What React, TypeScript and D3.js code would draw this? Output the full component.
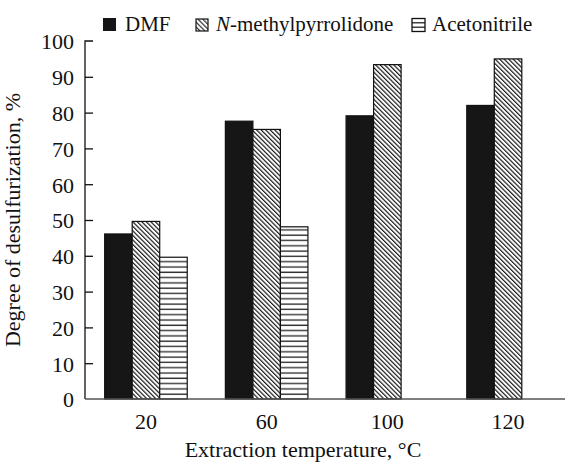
import React, { useEffect, useRef } from 'react'
import * as d3 from 'd3'

const categories = ['20', '60', '100', '120']
const dmf = [46.1, 77.6, 79.1, 82.0]
const nmp = [49.6, 75.3, 93.4, 95.0]
const acetonitrile: (number | null)[] = [39.6, 48.1, null, null]
const yTicks = [0, 10, 20, 30, 40, 50, 60, 70, 80, 90, 100]

const seriesKeys = ['dmf', 'nmp', 'acn']
const fills: Record<string, string> = {
  dmf: '#161616',
  nmp: 'url(#hatchDiag)',
  acn: 'url(#hatchHoriz)'
}

const font = "'Liberation Serif', Tinos, 'Times New Roman', 'DejaVu Serif', serif"

export default function App() {
  const ref = useRef<SVGSVGElement>(null)

  useEffect(() => {
    const svg = d3.select(ref.current)
    svg.selectAll('*').remove()

    const W = 566
    const H = 462
    const left = 85
    const bottom = 399
    const top = 41

    const x = d3.scaleBand().domain(categories).range([left, 569]).paddingInner(0.316).paddingOuter(0.163)
    const xs = d3.scaleBand().domain(seriesKeys).range([0, x.bandwidth()])
    const y = d3.scaleLinear().domain([0, 100]).range([bottom, top])

    svg.attr('width', W).attr('height', H).style('font-family', font)

    // patterns
    const defs = svg.append('defs')
    const diag = defs.append('pattern')
      .attr('id', 'hatchDiag')
      .attr('patternUnits', 'userSpaceOnUse')
      .attr('width', 3.2).attr('height', 3.2)
      .attr('patternTransform', 'rotate(-45)')
    diag.append('rect').attr('width', 3.2).attr('height', 3.2).attr('fill', '#fff')
    diag.append('line').attr('x1', 0.6).attr('y1', 0).attr('x2', 0.6).attr('y2', 3.2)
      .attr('stroke', '#1a1a1a').attr('stroke-width', 1.2)

    const horiz = defs.append('pattern')
      .attr('id', 'hatchHoriz')
      .attr('patternUnits', 'userSpaceOnUse')
      .attr('width', 10).attr('height', 5.3)
    horiz.append('rect').attr('width', 10).attr('height', 5.3).attr('fill', '#fff')
    horiz.append('line').attr('x1', 0).attr('y1', 2).attr('x2', 10).attr('y2', 2)
      .attr('stroke', '#333').attr('stroke-width', 1.4)

    const diagL = defs.append('pattern')
      .attr('id', 'legendDiag')
      .attr('patternUnits', 'userSpaceOnUse')
      .attr('width', 3.4).attr('height', 3.4)
      .attr('patternTransform', 'rotate(-45)')
    diagL.append('rect').attr('width', 3.4).attr('height', 3.4).attr('fill', '#fff')
    diagL.append('line').attr('x1', 0.6).attr('y1', 0).attr('x2', 0.6).attr('y2', 3.4)
      .attr('stroke', '#1a1a1a').attr('stroke-width', 1.1)

    // bars
    const rows = categories.map((c, i) => ({ c, dmf: dmf[i], nmp: nmp[i], acn: acetonitrile[i] }))
    const groups = svg.append('g').selectAll('g')
      .data(rows)
      .enter().append('g')
      .attr('transform', d => `translate(${x(d.c)},0)`)

    groups.selectAll('rect')
      .data(d => seriesKeys.map(k => ({ k, v: (d as any)[k] as number | null })).filter(e => e.v != null))
      .enter().append('rect')
      .attr('x', d => xs(d.k)!)
      .attr('width', xs.bandwidth())
      .attr('y', d => y(d.v!))
      .attr('height', d => bottom - y(d.v!))
      .attr('fill', d => fills[d.k])
      .attr('stroke', '#111')
      .attr('stroke-width', 1.2)

    // y axis
    const ya = svg.append('g').attr('transform', `translate(${left},0)`)
    ya.call(d3.axisLeft(y).tickValues(yTicks).tickSize(-8).tickPadding(11).tickSizeOuter(-8))
    ya.attr('font-family', null)
    ya.select('.domain').attr('stroke', '#111').attr('stroke-width', 1.3)
    ya.selectAll('.tick line').attr('stroke', '#111').attr('stroke-width', 1.3)
    ya.selectAll('.tick text')
      .style('font-family', font).attr('font-size', 22).attr('fill', '#111')
      .attr('dy', '0.36em')
    ya.select('.domain').attr('d', `M0,${bottom}V${top}h8`)
    ya.selectAll('.tick').filter((d: any) => d === 100 || d === 0).select('line').remove()

    // x axis
    const xa = svg.append('g').attr('transform', `translate(0,${bottom})`)
    xa.call(d3.axisBottom(x).tickSize(0).tickPadding(14))
    xa.attr('font-family', null)
    xa.select('.domain').attr('d', `M${left},0H565`).attr('stroke', '#555').attr('stroke-width', 1.6)
    xa.selectAll('.tick text')
      .style('font-family', font).attr('font-size', 22).attr('fill', '#111')

    // axis titles
    svg.append('text')
      .attr('x', 303).attr('y', 457)
      .attr('text-anchor', 'middle')
      .style('font-family', font).attr('font-size', 22).attr('fill', '#111')
      .text('Extraction temperature, °C')

    svg.append('text')
      .attr('transform', `translate(20,${(top + bottom) / 2}) rotate(-90)`)
      .attr('text-anchor', 'middle')
      .style('font-family', font).attr('font-size', 22).attr('fill', '#111')
      .text('Degree of desulfurization, %')

    // legend
    const lg = svg.append('g').style('font-family', font)
    lg.append('rect').attr('x', 103).attr('y', 18).attr('width', 13).attr('height', 13).attr('fill', '#161616')
    lg.append('text').attr('x', 125).attr('y', 31)
      .attr('font-size', 21).attr('fill', '#111').text('DMF')

    lg.append('rect').attr('x', 196).attr('y', 19).attr('width', 12).attr('height', 12)
      .attr('fill', 'url(#legendDiag)').attr('stroke', '#111').attr('stroke-width', 1.2)
    const t2 = lg.append('text').attr('x', 216).attr('y', 31)
      .attr('font-size', 21).attr('fill', '#111')
    t2.append('tspan').attr('font-style', 'italic').text('N')
    t2.append('tspan').text('-methylpyrrolidone')

    lg.append('rect').attr('x', 412).attr('y', 18.5).attr('width', 13).attr('height', 13)
      .attr('fill', '#fff').attr('stroke', '#111').attr('stroke-width', 1.3)
    lg.append('line').attr('x1', 412).attr('x2', 425).attr('y1', 22.8).attr('y2', 22.8).attr('stroke', '#111').attr('stroke-width', 1.2)
    lg.append('line').attr('x1', 412).attr('x2', 425).attr('y1', 27.2).attr('y2', 27.2).attr('stroke', '#111').attr('stroke-width', 1.2)
    lg.append('text').attr('x', 432).attr('y', 31)
      .attr('font-size', 21).attr('fill', '#111').text('Acetonitrile')
  }, [])

  return (
    <div style={{ position: 'absolute', left: 0, top: 0, background: '#fff' }}>
      <svg ref={ref} style={{ display: 'block' }} />
    </div>
  )
}
